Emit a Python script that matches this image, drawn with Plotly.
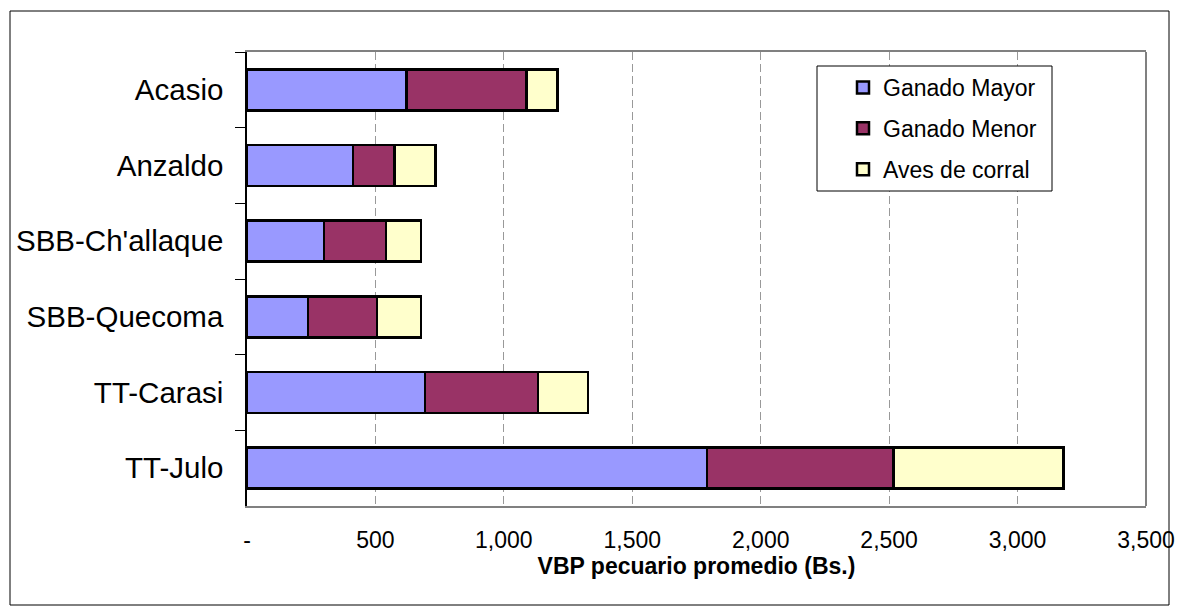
import plotly.graph_objects as go

# Average livestock gross production value per community, split by livestock type
communities = ["Acasio", "Anzaldo", "SBB-Ch'allaque", "SBB-Quecoma", "TT-Carasi", "TT-Julo"]
ganado_mayor = [620, 412, 300, 237, 693, 1790]
ganado_menor = [468, 162, 241, 270, 439, 726]
aves_corral = [121, 159, 136, 170, 196, 662]

x_tickvals = [0, 500, 1000, 1500, 2000, 2500, 3000, 3500]
x_ticktext = ["-", "500", "1,000", "1,500", "2,000", "2,500", "3,000", "3,500"]

W, H = 1179, 615
ML, MR, MT, MB = 247, 33, 52, 109
PW, PH = W - ML - MR, H - MT - MB


def px_x(px):
    return (px - ML) / PW


def px_y(py):
    return (H - MB - py) / PH


FONT = "Arial, Liberation Sans, sans-serif"

series = [
    ("Ganado Mayor", ganado_mayor, "#9999FF"),
    ("Ganado Menor", ganado_menor, "#993366"),
    ("Aves de corral", aves_corral, "#FFFFCC"),
]

fig = go.Figure()
for i, (name, vals, color) in enumerate(series):
    fig.add_trace(go.Bar(
        y=communities, x=vals, name=name, orientation="h",
        marker=dict(color=color, line=dict(color="black", width=2.5)),
        legendgroup=f"g{i}",
    ))

shapes = [
    # outer chart frame
    dict(type="rect", xref="paper", yref="paper",
         x0=px_x(10), x1=px_x(1169), y0=px_y(605), y1=px_y(11),
         line=dict(color="black", width=1), fillcolor="rgba(0,0,0,0)", layer="above"),
    # right edge of the plot area
    dict(type="line", xref="paper", yref="paper", x0=1, x1=1, y0=0, y1=1,
         line=dict(color="#808080", width=2), layer="above"),
    # legend box
    dict(type="rect", xref="paper", yref="paper",
         x0=px_x(817), x1=px_x(1052), y0=px_y(191), y1=px_y(66),
         line=dict(color="black", width=1), fillcolor="white", layer="above"),
]

fig.update_layout(
    width=W, height=H,
    margin=dict(l=ML, r=MR, t=MT, b=MB, autoexpand=False),
    barmode="stack", bargap=0.46,
    plot_bgcolor="white", paper_bgcolor="white",
    font=dict(family=FONT, color="black"),
    shapes=shapes,
    legend=dict(
        x=px_x(843), y=px_y(66), xanchor="left", yanchor="top",
        bgcolor="rgba(0,0,0,0)", borderwidth=0,
        font=dict(family=FONT, size=23, color="black"),
        traceorder="grouped", tracegroupgap=8,
    ),
    xaxis=dict(
        range=[0, 3500], tickvals=x_tickvals, ticktext=x_ticktext,
        showgrid=True, gridcolor="#999999", griddash="8px,4px", gridwidth=1,
        zeroline=False, showline=True, mirror=True, linecolor="#808080", linewidth=2,
        ticks="", ticklabelstandoff=12,
        tickfont=dict(family=FONT, size=23, color="black"),
        title=dict(text="<b>VBP pecuario promedio (Bs.)</b>", standoff=0,
                   font=dict(family=FONT, size=23, color="black")),
    ),
    yaxis=dict(
        autorange="reversed", type="category",
        showline=True, linecolor="black", linewidth=1.5,
        ticks="outside", ticklen=10, tickcolor="black", tickwidth=1,
        tickson="boundaries", showgrid=False, ticklabelstandoff=16,
        tickfont=dict(family=FONT, size=29.5, color="black"),
    ),
)

fig.write_html("out.html")
